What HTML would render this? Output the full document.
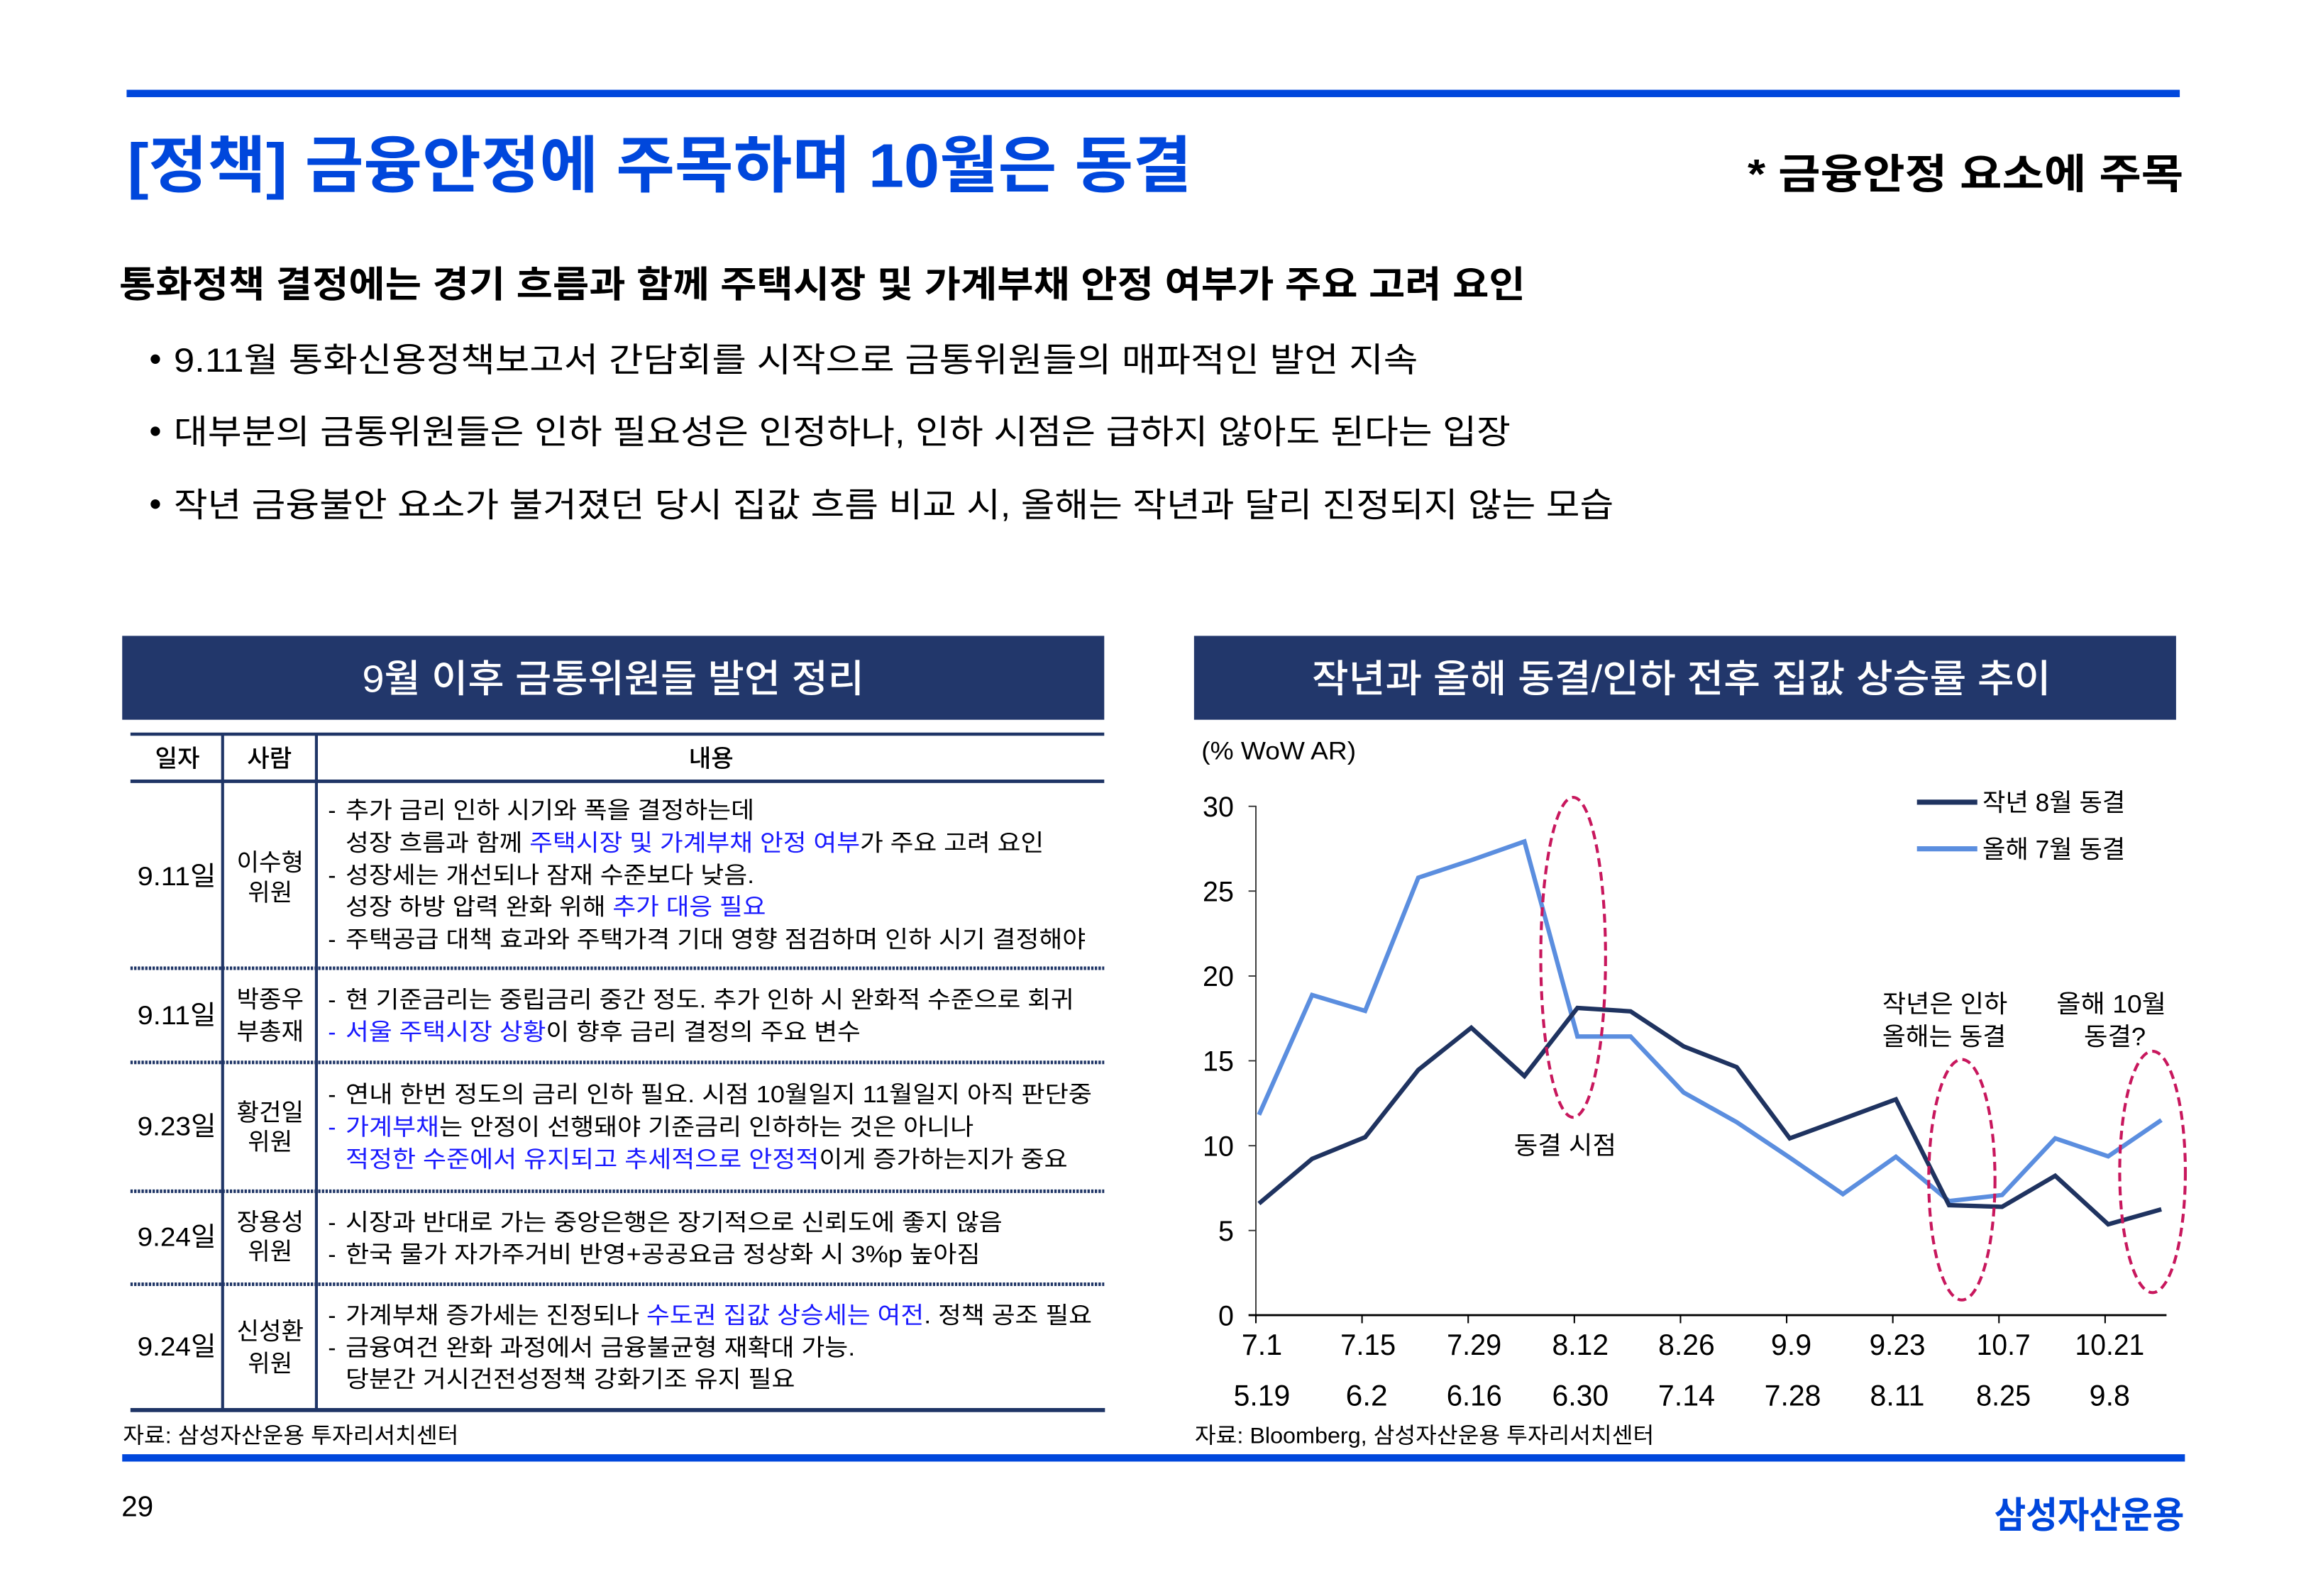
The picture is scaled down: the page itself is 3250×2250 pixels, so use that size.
<!DOCTYPE html>
<html lang="ko">
<head>
<meta charset="utf-8">
<style>
html,body{margin:0;padding:0;background:#fff;}
svg{display:block;}
text{font-family:"Liberation Sans","Noto Sans CJK KR",sans-serif;}
.b{font-weight:bold;}
.t{font-size:16px;fill:#000;}
.hl{fill:#1a1aff;}
.ax{font-size:20px;fill:#000;}
.ay{font-size:19px;fill:#000;}
</style>
</head>
<body>
<svg xmlns="http://www.w3.org/2000/svg" width="3250" height="2250" viewBox="0 0 1566.24 1084.32" preserveAspectRatio="none">
<rect x="0" y="0" width="1567" height="1085" fill="#fff"/>

<!-- top bar -->
<rect x="86" y="61" width="1394.5" height="5" fill="#0047DC"/>

<!-- title -->
<text x="86.5" y="127" font-size="42" class="b" fill="#0047DC" textLength="723" lengthAdjust="spacingAndGlyphs">[정책] 금융안정에 주목하며 10월은 동결</text>
<text x="1187" y="128" font-size="28" class="b" fill="#000" textLength="296" lengthAdjust="spacingAndGlyphs">* 금융안정 요소에 주목</text>

<!-- subtitle -->
<text x="81" y="202" font-size="25" class="b" fill="#000" textLength="955" lengthAdjust="spacingAndGlyphs">통화정책 결정에는 경기 흐름과 함께 주택시장 및 가계부채 안정 여부가 주요 고려 요인</text>

<!-- bullets -->
<circle cx="105.5" cy="244" r="3.2" fill="#000"/>
<text x="118" y="252.5" font-size="23" fill="#000" textLength="845" lengthAdjust="spacingAndGlyphs">9.11월 통화신용정책보고서 간담회를 시작으로 금통위원들의 매파적인 발언 지속</text>
<circle cx="105.5" cy="293" r="3.2" fill="#000"/>
<text x="118" y="301.5" font-size="23" fill="#000" textLength="908" lengthAdjust="spacingAndGlyphs">대부분의 금통위원들은 인하 필요성은 인정하나, 인하 시점은 급하지 않아도 된다는 입장</text>
<circle cx="105.5" cy="342.5" r="3.2" fill="#000"/>
<text x="118" y="351" font-size="23" fill="#000" textLength="978" lengthAdjust="spacingAndGlyphs">작년 금융불안 요소가 불거졌던 당시 집값 흐름 비교 시, 올해는 작년과 달리 진정되지 않는 모습</text>

<!-- header boxes -->
<rect x="83" y="432" width="667" height="57" fill="#22376B"/>
<text x="246" y="470" font-size="26" font-weight="500" fill="#fff" textLength="341" lengthAdjust="spacingAndGlyphs">9월 이후 금통위원들 발언 정리</text>
<rect x="811" y="432" width="667" height="57" fill="#22376B"/>
<text x="891" y="470" font-size="26" font-weight="500" fill="#fff" textLength="502" lengthAdjust="spacingAndGlyphs">작년과 올해 동결/인하 전후 집값 상승률 추이</text>

<!-- ===== TABLE ===== -->
<g stroke="#1F3566" fill="none">
  <line x1="88.6" y1="498.8" x2="750" y2="498.8" stroke-width="2.2"/>
  <line x1="88.6" y1="530.8" x2="750" y2="530.8" stroke-width="2.4"/>
  <line x1="151.2" y1="498" x2="151.2" y2="958" stroke-width="2"/>
  <line x1="214.9" y1="498" x2="214.9" y2="958" stroke-width="2"/>
  <g stroke-width="2.4" stroke-dasharray="1.6 0.9">
    <line x1="88.6" y1="657.8" x2="750" y2="657.8"/>
    <line x1="88.6" y1="721.8" x2="750" y2="721.8"/>
    <line x1="88.6" y1="809.3" x2="750" y2="809.3"/>
    <line x1="88.6" y1="872.5" x2="750" y2="872.5"/>
  </g>
  <line x1="88.6" y1="958" x2="750.5" y2="958" stroke-width="2.8"/>
</g>

<!-- header row -->
<text x="120.5" y="521" font-size="16.5" font-weight="500" text-anchor="middle">일자</text>
<text x="183" y="521" font-size="16.5" font-weight="500" text-anchor="middle">사람</text>
<text x="483" y="521" font-size="16.5" font-weight="500" text-anchor="middle">내용</text>

<!-- dates -->
<g font-size="18" fill="#000">
<text x="93.3" y="601.5" textLength="53.5" lengthAdjust="spacingAndGlyphs">9.11일</text>
<text x="93.3" y="696" textLength="53.5" lengthAdjust="spacingAndGlyphs">9.11일</text>
<text x="93.3" y="771.3" textLength="53.5" lengthAdjust="spacingAndGlyphs">9.23일</text>
<text x="93.3" y="846.5" textLength="53.5" lengthAdjust="spacingAndGlyphs">9.24일</text>
<text x="93.3" y="921" textLength="53.5" lengthAdjust="spacingAndGlyphs">9.24일</text>
</g>

<!-- persons -->
<g font-size="16.5" fill="#000" text-anchor="middle">
<text x="183.5" y="591.5">이수형</text>
<text x="183.5" y="612">위원</text>
<text x="183.5" y="684.5">박종우</text>
<text x="183.5" y="706.5">부총재</text>
<text x="183.5" y="761.5">황건일</text>
<text x="183.5" y="781.5">위원</text>
<text x="183.5" y="836">장용성</text>
<text x="183.5" y="856">위원</text>
<text x="183.5" y="910">신성환</text>
<text x="183.5" y="932">위원</text>
</g>

<!-- content -->
<g class="t">
<text x="222.8" y="556" class="t">-</text>
<text x="234.7" y="556" class="t" textLength="277.6" lengthAdjust="spacingAndGlyphs">추가 금리 인하 시기와 폭을 결정하는데</text>
<text x="234.7" y="578" class="t" textLength="474.3" lengthAdjust="spacingAndGlyphs">성장 흐름과 함께 <tspan class="hl">주택시장 및 가계부채 안정 여부</tspan>가 주요 고려 요인</text>
<text x="222.8" y="600" class="t">-</text>
<text x="234.7" y="600" class="t" textLength="277.6" lengthAdjust="spacingAndGlyphs">성장세는 개선되나 잠재 수준보다 낮음.</text>
<text x="234.7" y="621.5" class="t" textLength="285.5" lengthAdjust="spacingAndGlyphs">성장 하방 압력 완화 위해 <tspan class="hl">추가 대응 필요</tspan></text>
<text x="222.8" y="643.5" class="t">-</text>
<text x="234.7" y="643.5" class="t" textLength="502.7" lengthAdjust="spacingAndGlyphs">주택공급 대책 효과와 주택가격 기대 영향 점검하며 인하 시기 결정해야</text>

<text x="222.8" y="684.5" class="t">-</text>
<text x="234.7" y="684.5" class="t" textLength="494.8" lengthAdjust="spacingAndGlyphs">현 기준금리는 중립금리 중간 정도. 추가 인하 시 완화적 수준으로 회귀</text>
<text x="222.8" y="706.5" class="t hl">-</text>
<text x="234.7" y="706.5" class="t" textLength="349.8" lengthAdjust="spacingAndGlyphs"><tspan class="hl">서울 주택시장 상황</tspan>이 향후 금리 결정의 주요 변수</text>

<text x="222.8" y="749" class="t">-</text>
<text x="234.7" y="749" class="t" textLength="507" lengthAdjust="spacingAndGlyphs">연내 한번 정도의 금리 인하 필요. 시점 10월일지 11월일지 아직 판단중</text>
<text x="222.8" y="771" class="t hl">-</text>
<text x="234.7" y="771" class="t" textLength="426.6" lengthAdjust="spacingAndGlyphs"><tspan class="hl">가계부채</tspan>는 안정이 선행돼야 기준금리 인하하는 것은 아니나</text>
<text x="234.7" y="793" class="t" textLength="490.4" lengthAdjust="spacingAndGlyphs"><tspan class="hl">적정한 수준에서 유지되고 추세적으로 안정적</tspan>이게 증가하는지가 중요</text>

<text x="222.8" y="836" class="t">-</text>
<text x="234.7" y="836" class="t" textLength="446.1" lengthAdjust="spacingAndGlyphs">시장과 반대로 가는 중앙은행은 장기적으로 신뢰도에 좋지 않음</text>
<text x="222.8" y="857.5" class="t">-</text>
<text x="234.7" y="857.5" class="t" textLength="431.1" lengthAdjust="spacingAndGlyphs">한국 물가 자가주거비 반영+공공요금 정상화 시 3%p 높아짐</text>

<text x="222.8" y="899" class="t">-</text>
<text x="234.7" y="899" class="t" textLength="507" lengthAdjust="spacingAndGlyphs">가계부채 증가세는 진정되나 <tspan class="hl">수도권 집값 상승세는 여전</tspan>. 정책 공조 필요</text>
<text x="222.8" y="921" class="t">-</text>
<text x="234.7" y="921" class="t" textLength="346.1" lengthAdjust="spacingAndGlyphs">금융여건 완화 과정에서 금융불균형 재확대 가능.</text>
<text x="234.7" y="942.5" class="t" textLength="305.3" lengthAdjust="spacingAndGlyphs">당분간 거시건전성정책 강화기조 유지 필요</text>
</g>

<!-- sources -->
<text x="83.5" y="980.5" font-size="15" fill="#000" textLength="228" lengthAdjust="spacingAndGlyphs">자료: 삼성자산운용 투자리서치센터</text>
<text x="811.5" y="980.5" font-size="15" fill="#000" textLength="312" lengthAdjust="spacingAndGlyphs">자료: Bloomberg, 삼성자산운용 투자리서치센터</text>

<!-- ===== CHART ===== -->
<text x="816" y="516" font-size="17" fill="#000" textLength="105" lengthAdjust="spacingAndGlyphs">(% WoW AR)</text>

<!-- y axis -->
<line x1="853" y1="547.4" x2="853" y2="893.5" stroke="#333" stroke-width="0.9"/>
<g stroke="#333" stroke-width="0.9">
  <line x1="848" y1="547.8" x2="853" y2="547.8"/>
  <line x1="848" y1="605.4" x2="853" y2="605.4"/>
  <line x1="848" y1="663.1" x2="853" y2="663.1"/>
  <line x1="848" y1="720.7" x2="853" y2="720.7"/>
  <line x1="848" y1="778.4" x2="853" y2="778.4"/>
  <line x1="848" y1="836.0" x2="853" y2="836.0"/>
</g>
<g class="ay" text-anchor="end">
  <text x="838" y="554.6">30</text>
  <text x="838" y="612.2">25</text>
  <text x="838" y="669.9">20</text>
  <text x="838" y="727.5">15</text>
  <text x="838" y="785.2">10</text>
  <text x="838" y="842.8">5</text>
  <text x="838" y="900.4">0</text>
</g>

<!-- x axis -->
<line x1="848" y1="893.5" x2="1471.5" y2="893.5" stroke="#000" stroke-width="1.4"/>
<g stroke="#000" stroke-width="1">
  <line x1="853" y1="893.5" x2="853" y2="899"/>
  <line x1="925.1" y1="893.5" x2="925.1" y2="899"/>
  <line x1="997.2" y1="893.5" x2="997.2" y2="899"/>
  <line x1="1069.3" y1="893.5" x2="1069.3" y2="899"/>
  <line x1="1141.4" y1="893.5" x2="1141.4" y2="899"/>
  <line x1="1213.5" y1="893.5" x2="1213.5" y2="899"/>
  <line x1="1285.6" y1="893.5" x2="1285.6" y2="899"/>
  <line x1="1357.7" y1="893.5" x2="1357.7" y2="899"/>
  <line x1="1429.8" y1="893.5" x2="1429.8" y2="899"/>
</g>
<g class="ax">
  <text x="843.3" y="920.5" textLength="27.6" lengthAdjust="spacingAndGlyphs">7.1</text>
  <text x="910.4" y="920.5" textLength="37.6" lengthAdjust="spacingAndGlyphs">7.15</text>
  <text x="982.7" y="920.5" textLength="37.1" lengthAdjust="spacingAndGlyphs">7.29</text>
  <text x="1054.2" y="920.5" textLength="38.4" lengthAdjust="spacingAndGlyphs">8.12</text>
  <text x="1126.3" y="920.5" textLength="38.4" lengthAdjust="spacingAndGlyphs">8.26</text>
  <text x="1202.8" y="920.5" textLength="27.6" lengthAdjust="spacingAndGlyphs">9.9</text>
  <text x="1269.7" y="920.5" textLength="38" lengthAdjust="spacingAndGlyphs">9.23</text>
  <text x="1342.5" y="920.5" textLength="36.6" lengthAdjust="spacingAndGlyphs">10.7</text>
  <text x="1409.4" y="920.5" textLength="47.1" lengthAdjust="spacingAndGlyphs">10.21</text>

  <text x="837.9" y="955" textLength="38.4" lengthAdjust="spacingAndGlyphs">5.19</text>
  <text x="914" y="955" textLength="28.5" lengthAdjust="spacingAndGlyphs">6.2</text>
  <text x="982.5" y="955" textLength="37.6" lengthAdjust="spacingAndGlyphs">6.16</text>
  <text x="1054.2" y="955" textLength="38.4" lengthAdjust="spacingAndGlyphs">6.30</text>
  <text x="1126.2" y="955" textLength="38.6" lengthAdjust="spacingAndGlyphs">7.14</text>
  <text x="1198.4" y="955" textLength="38.4" lengthAdjust="spacingAndGlyphs">7.28</text>
  <text x="1270.1" y="955" textLength="37.1" lengthAdjust="spacingAndGlyphs">8.11</text>
  <text x="1342.2" y="955" textLength="37.1" lengthAdjust="spacingAndGlyphs">8.25</text>
  <text x="1419.1" y="955" textLength="27.6" lengthAdjust="spacingAndGlyphs">9.8</text>
</g>

<!-- series -->
<polyline fill="none" stroke="#5B8EDF" stroke-width="3" stroke-linejoin="miter"
 points="855.1,757.4 891.2,676.0 927.2,686.8 963.3,596.3 999.3,584.4 1035.4,571.7 1071.4,704.2 1107.5,704.2 1143.5,742.2 1179.6,762.4 1215.6,786.5 1251.7,811.3 1287.7,785.9 1323.8,816.0 1359.8,811.9 1395.9,773.4 1431.9,785.6 1468.0,761.0"/>
<polyline fill="none" stroke="#1F3360" stroke-width="3" stroke-linejoin="miter"
 points="855.1,817.7 891.2,787.3 927.2,772.6 963.3,726.9 999.3,698.2 1035.4,731.1 1071.4,684.8 1107.5,687.1 1143.5,710.9 1179.6,725.0 1215.6,773.4 1251.7,760.2 1287.7,746.9 1323.8,818.8 1359.8,819.9 1395.9,798.8 1431.9,831.8 1468.0,821.6"/>

<!-- ellipses -->
<g fill="none" stroke="#C8175D" stroke-width="2" stroke-dasharray="6 3.5">
  <ellipse cx="1068.5" cy="650.4" rx="22" ry="108.7"/>
  <ellipse cx="1332.5" cy="801.5" rx="22.5" ry="81.7"/>
  <ellipse cx="1462" cy="796.2" rx="22.3" ry="82"/>
</g>

<!-- legend -->
<line x1="1302" y1="545" x2="1343" y2="545" stroke="#1F3360" stroke-width="3.5"/>
<text x="1346.5" y="551" font-size="17" fill="#000" textLength="97" lengthAdjust="spacingAndGlyphs">작년 8월 동결</text>
<line x1="1302" y1="576.7" x2="1343" y2="576.7" stroke="#5B8EDF" stroke-width="3.5"/>
<text x="1346.5" y="583" font-size="17" fill="#000" textLength="97" lengthAdjust="spacingAndGlyphs">올해 7월 동결</text>

<!-- annotations -->
<text x="1028.3" y="784" font-size="17" fill="#000" textLength="69.5" lengthAdjust="spacingAndGlyphs">동결 시점</text>
<text x="1278.5" y="688" font-size="17" fill="#000" textLength="85" lengthAdjust="spacingAndGlyphs">작년은 인하</text>
<text x="1278.5" y="710" font-size="17" fill="#000" textLength="84" lengthAdjust="spacingAndGlyphs">올해는 동결</text>
<text x="1396.8" y="688" font-size="17" fill="#000" textLength="74.5" lengthAdjust="spacingAndGlyphs">올해 10월</text>
<text x="1415.4" y="710" font-size="17" fill="#000" textLength="42" lengthAdjust="spacingAndGlyphs">동결?</text>

<!-- bottom bar & footer -->
<rect x="83" y="988" width="1401" height="5" fill="#0047DC"/>
<text x="82.5" y="1030" font-size="19.5" fill="#000">29</text>
<text x="1354.5" y="1038" font-size="25" class="b" fill="#0047DC" textLength="129" lengthAdjust="spacingAndGlyphs">삼성자산운용</text>
</svg>
</body>
</html>
